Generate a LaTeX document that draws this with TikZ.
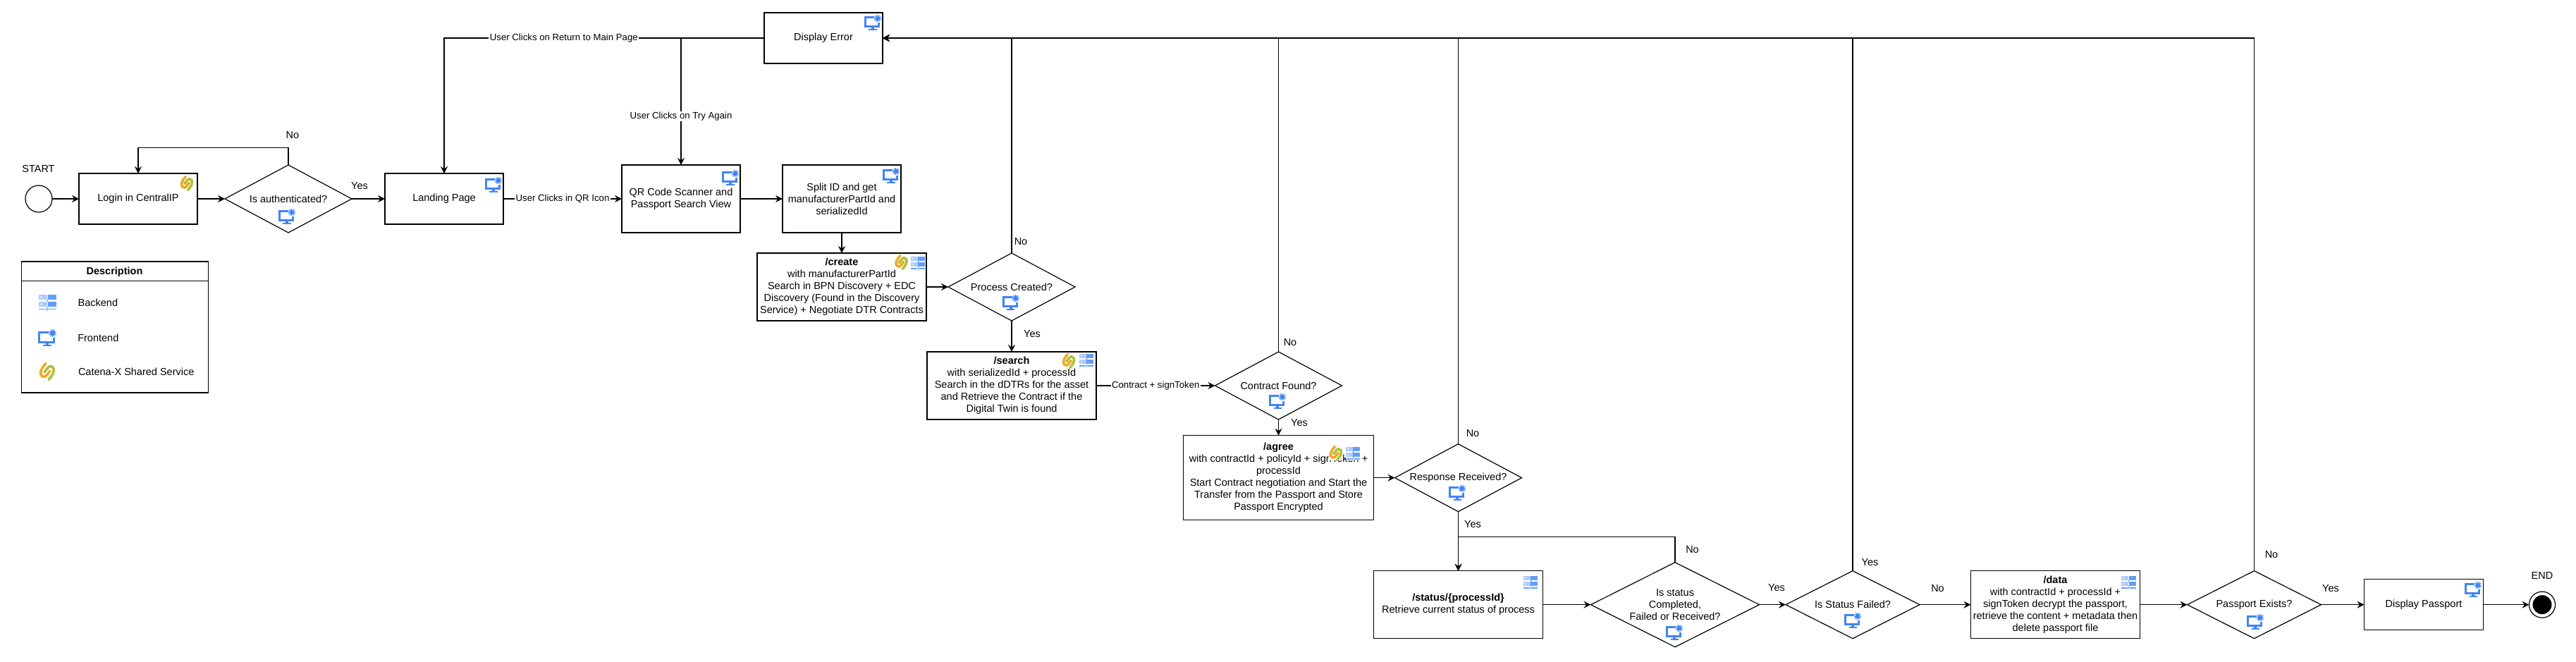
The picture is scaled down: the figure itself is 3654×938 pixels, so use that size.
\documentclass[tikz,border=0pt]{standalone}
\usepackage{fontspec}
\setmainfont{Liberation Sans}
\usetikzlibrary{positioning}
\usetikzlibrary{shapes.geometric}
\usetikzlibrary{arrows.meta}

\definecolor{iconblue}{HTML}{4285F4}
\definecolor{iconmid}{HTML}{669DF6}
\definecolor{iconpale}{HTML}{AECBFA}
\definecolor{linkorange}{HTML}{F5A623}
\definecolor{linkgreen}{HTML}{A9C23F}

\tikzset{
  every node/.style={font=\fontsize{14.5}{17}\selectfont, align=center, inner sep=0pt, outer sep=0pt},
  box/.style={draw, rectangle, line width=1.4pt, minimum width=168pt, minimum height=72pt},
  tallbox/.style={box, minimum height=96pt},
  widebox/.style={box, minimum width=240pt, minimum height=96pt},
  decision/.style={draw, diamond, aspect=2, line width=1.2pt, minimum width=180pt, minimum height=96pt},
  flow/.style={line width=1.4pt, -{Stealth[length=10pt, width=10pt, inset=3.5pt]}},
  edgelabel/.style={fill=white, inner xsep=1.5pt, inner ysep=1pt, font=\fontsize{13.2}{15}\selectfont},
  frontendicon/.pic={
    \draw[iconblue, line width=3pt] (2,8) -- (-11.5,8) -- (-11.5,-6.5) -- (9.5,-6.5) -- (9.5,0);
    \fill[iconblue] (-2,-6.5) rectangle (2,-10);
    \fill[iconblue] (-6,-10) rectangle (6,-12);
    \fill[iconblue] (7.5,6.5) circle (3.8pt);
    \foreach \a in {0,30,...,330}
      \draw[iconblue, line width=0.9pt] (7.5,6.5) -- ++(\a:5.8);
  },
  backendicon/.pic={
    \fill[white] (-12.5,-12) rectangle (12.5,12);
    \fill[iconpale] (-12.5,4) rectangle (-0.5,11.5);
    \fill[iconmid] (0.5,4) rectangle (12.5,11.5);
    \fill[iconpale] (-12.5,-6) rectangle (-0.5,1.3);
    \fill[iconmid] (0.5,-6) rectangle (12.5,1.3);
    \fill[white] (-8.5,7.7) circle (1.2pt);
    \fill[white] (-8.5,-2.3) circle (1.2pt);
    \draw[iconblue, line width=1pt] (0,4) -- (0,1.3) (0,-6) -- (0,-9.5);
    \draw[iconmid, line width=1.6pt] (-12.5,-9.5) -- (12.5,-9.5);
    \fill[iconpale] (0,-9.5) circle (2.6pt);
  },
  sharedicon/.pic={
    \fill[white] (-12.5,-12.5) rectangle (12.5,12.5);
    \draw[linkorange, line width=3.6pt, line cap=round]
      (-2,11.5) .. controls (-10,3) and (-12,-6) .. (-5,-7.5) .. controls (-2,-8) and (1,-3) .. (4,1);
    \draw[linkgreen, line width=3.6pt, line cap=round]
      (2,-11.5) .. controls (10,-3) and (12,6) .. (5,7.5) .. controls (2,8) and (-1,3) .. (-4,-1);
  },
  smallicon/.style={scale=0.82},
  screenicon/.style={scale=0.92}
}

\begin{document}
\begin{tikzpicture}[x=1pt, y=1pt]
\useasboundingbox (0,0) rectangle (3654,-938);

% Main row of steps
\node[draw, circle, line width=1.2pt, minimum size=38pt] (start) at (55,-282) {};
\node[box, right=38pt of start] (login) {Login in CentralIP};
\node[decision, right=39pt of login] (auth) {Is authenticated?};
\node[box, right=47pt of auth] (landing) {Landing Page};
\node[tallbox, right=168pt of landing] (qrview) {QR Code Scanner and\\Passport Search View};
\node[tallbox, right=60pt of qrview] (split) {Split ID and get\\manufacturerPartId and\\serializedId};
\node[box] (dsperror) at (1168,-54) {Display Error};

% Backend calls and decisions
\node[widebox, below=29pt of split] (create) {\textbf{/create}\\with manufacturerPartId\\Search in BPN Discovery + EDC\\Discovery (Found in the Discovery\\Service) + Negotiate DTR Contracts};
\node[decision, right=31pt of create] (process) {Process Created?};
\node[widebox, below=44pt of process] (search) {\textbf{/search}\\with serializedId + processId\\Search in the dDTRs for the asset\\and Retrieve the Contract if the\\Digital Twin is found};
\node[decision, right=168.5pt of search] (contract) {Contract Found?};
\node[box, minimum width=270pt, minimum height=120pt, below=22.7pt of contract] (agree) {\textbf{/agree}\\with contractId + policyId + signToken +\\processId\\Start Contract negotiation and Start the\\Transfer from the Passport and Store\\Passport Encrypted};
\node[decision, right=30pt of agree] (response) {Response Received?};
\node[widebox, below=84pt of response] (status) {\textbf{/status/\{processId\}}\\Retrieve current status of process};
\node[decision, minimum width=239pt, minimum height=120pt, right=68pt of status] (isstatus) {Is status\\Completed,\\Failed or Received?};
\node[decision, minimum width=190pt, right=37.5pt of isstatus] (failed) {Is Status Failed?};
\node[widebox, right=72.5pt of failed] (data) {\textbf{/data}\\with contractId + processId +\\signToken decrypt the passport,\\retrieve the content + metadata then\\delete passport file};
\node[decision, minimum width=190pt, right=67pt of data] (exists) {Passport Exists?};
\node[box, minimum width=169pt, right=61pt of exists] (dsppassport) {Display Passport};
\node[draw, circle, line width=1.2pt, minimum size=37pt, right=65pt of dsppassport] (end) {};
\node[circle, fill=black, minimum size=27pt] (endcore) at (end) {};

% Labels
\node (startlbl) at (54.5,-240) {START};
\node (endlbl) at (3606,-816) {END};
\node (noauth) at (415,-192) {No};
\node (yesauth) at (510,-264) {Yes};
\node (noprocess) at (1448,-343) {No};
\node (yesprocess) at (1464,-474) {Yes};
\node (nocontract) at (1830,-486) {No};
\node (yescontract) at (1843,-600) {Yes};
\node (noresponse) at (2089,-615) {No};
\node (yesresponse) at (2089,-744) {Yes};
\node (nostatus) at (2400.5,-780) {No};
\node (yesstatus) at (2520,-834) {Yes};
\node (yesfailed) at (2652.5,-798) {Yes};
\node (nofailed) at (2748.5,-835) {No};
\node (noexists) at (3222,-787) {No};
\node (yesexists) at (3306,-835) {Yes};

% Edges
\draw[flow] (start) -- (login);
\draw[flow] (login) -- (auth);
\draw[flow] (auth) -- (landing);
\draw[flow] (auth.north) -- ++(0,24.5) -| (login.north);
\draw[flow] (landing) -- node[edgelabel] (lblqr) {User Clicks in QR Icon} (qrview);
\draw[flow] (qrview) -- (split);
\draw[flow] (split) -- (create);
\draw[flow] (create) -- (process);
\draw[flow] (process) -- (search);
\draw[flow] (search) -- node[edgelabel] (lbltoken) {Contract + signToken} (contract);
\draw[flow] (contract) -- (agree);
\draw[flow] (agree) -- (response);
\draw[flow] (response) -- (status);
\draw[flow] (status) -- (isstatus);
\draw[flow] (isstatus) -- (failed);
\draw[flow] (failed) -- (data);
\draw[flow] (data) -- (exists);
\draw[flow] (exists) -- (dsppassport);
\draw[flow] (dsppassport) -- (end);
\draw[flow] (isstatus.north) -- ++(0,36) -| (status.north);
\draw[flow] (dsperror) -| node[edgelabel, pos=0.313] (lblreturn) {User Clicks on Return to Main Page} (landing.north);
\draw[flow] (qrview.north |- dsperror.west) -- node[edgelabel, pos=0.617] (lbltry) {User Clicks on Try Again} (qrview.north);
\draw[flow] (process.north) |- (dsperror.east);
\draw[flow] (contract.north) |- (dsperror.east);
\draw[flow] (response.north) |- (dsperror.east);
\draw[flow] (failed.north) |- (dsperror.east);
\draw[flow] (exists.north) |- (dsperror.east);

% Description box
\node[draw, rectangle, line width=1.4pt, minimum width=264.5pt, minimum height=186pt] (legend) at (163,-464) {};
\node (legendtitle) at (162.5,-386) {\textbf{Description}};
\draw[line width=1.4pt] (legend.west |- 0,-398.7) -- (legend.east |- 0,-398.7);
\node[anchor=west] (lblbackend) at (110.7,-429) {Backend};
\node[anchor=west] (lblfrontend) at (110.3,-479) {Frontend};
\node[anchor=west] (lblshared) at (111,-527) {Catena-X Shared Service};
\pic at (67,-429) {backendicon};
\pic at (67,-479) {frontendicon};
\pic at (67,-527) {sharedicon};

% Icons on the steps
\pic[smallicon] at (265,-260) {sharedicon};
\pic[screenicon] at (407,-307) {frontendicon};
\pic[screenicon] at (700,-262) {frontendicon};
\pic[screenicon] at (1238,-32) {frontendicon};
\pic[screenicon] at (1036,-252) {frontendicon};
\pic[screenicon] at (1264,-249) {frontendicon};
\pic[smallicon] at (1278.6,-372) {sharedicon};
\pic[smallicon] at (1302,-373) {backendicon};
\pic[screenicon] at (1433.7,-429) {frontendicon};
\pic[smallicon] at (1516,-512) {sharedicon};
\pic[smallicon] at (1541,-511) {backendicon};
\pic[screenicon] at (1812,-569) {frontendicon};
\pic[smallicon] at (1895,-643) {sharedicon};
\pic[smallicon] at (1919,-643) {backendicon};
\pic[screenicon] at (2067,-699) {frontendicon};
\pic[smallicon] at (2171,-826) {backendicon};
\pic[screenicon] at (2375,-897) {frontendicon};
\pic[screenicon] at (2628,-880) {frontendicon};
\pic[smallicon] at (3019.5,-826) {backendicon};
\pic[screenicon] at (3199,-882) {frontendicon};
\pic[screenicon] at (3508,-836) {frontendicon};
\end{tikzpicture}
\end{document}
